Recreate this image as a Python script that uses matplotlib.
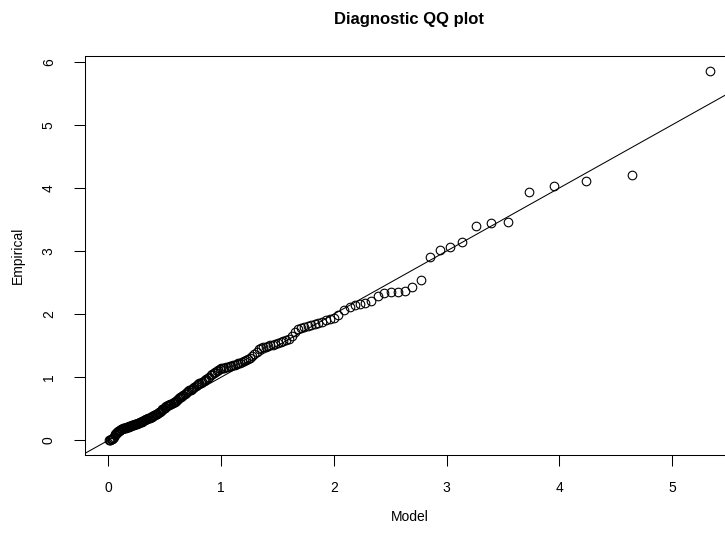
import numpy as np
import matplotlib
matplotlib.use("Agg")
import matplotlib.pyplot as plt

plt.rcParams['font.family'] = ['Liberation Sans', 'DejaVu Sans']

# model (theoretical) quantiles
model = [0.005, 0.011, 0.016, 0.022, 0.027, 0.032, 0.038, 0.043, 0.049, 0.055,
         0.060, 0.066, 0.072, 0.077, 0.083, 0.089, 0.095, 0.100, 0.106, 0.112,
         0.118, 0.124, 0.130, 0.136, 0.142, 0.148, 0.155, 0.161, 0.167, 0.173,
         0.180, 0.186, 0.192, 0.199, 0.205, 0.212, 0.218, 0.225, 0.232, 0.238,
         0.245, 0.252, 0.259, 0.266, 0.272, 0.279, 0.286, 0.293, 0.301, 0.308,
         0.315, 0.322, 0.329, 0.337, 0.344, 0.352, 0.359, 0.367, 0.375, 0.382,
         0.390, 0.398, 0.406, 0.414, 0.422, 0.430, 0.438, 0.446, 0.454, 0.463,
         0.471, 0.479, 0.488, 0.497, 0.505, 0.514, 0.523, 0.532, 0.541, 0.550,
         0.559, 0.568, 0.578, 0.587, 0.596, 0.606, 0.616, 0.625, 0.635, 0.645,
         0.655, 0.665, 0.676, 0.686, 0.696, 0.707, 0.718, 0.728, 0.739, 0.750,
         0.762, 0.773, 0.784, 0.796, 0.807, 0.819, 0.831, 0.843, 0.855, 0.868,
         0.880, 0.893, 0.906, 0.919, 0.932, 0.945, 0.959, 0.972, 0.986, 1.000,
         1.015, 1.029, 1.044, 1.059, 1.074, 1.089, 1.105, 1.121, 1.137, 1.153,
         1.170, 1.186, 1.204, 1.221, 1.239, 1.257, 1.275, 1.294, 1.313, 1.332,
         1.352, 1.372, 1.393, 1.414, 1.436, 1.457, 1.480, 1.503, 1.526, 1.550,
         1.575, 1.600, 1.626, 1.652, 1.680, 1.707, 1.736, 1.766, 1.796, 1.828,
         1.860, 1.893, 1.928, 1.964, 2.001, 2.039,
         2.085, 2.138, 2.183, 2.227, 2.272, 2.331, 2.390, 2.443, 2.502, 2.564,
         2.626, 2.695, 2.771, 2.851, 2.937, 3.032, 3.138, 3.257, 3.390, 3.543,
         3.727, 3.949, 4.239, 4.643, 5.335]

# empirical quantiles
empirical = [0.00, 0.005, 0.01, 0.015, 0.02, 0.025, 0.03, 0.04, 0.05, 0.08,
             0.10, 0.11, 0.12, 0.13, 0.14, 0.145, 0.15, 0.155, 0.16, 0.17,
             0.18, 0.185, 0.19, 0.193, 0.195, 0.198, 0.20, 0.205, 0.21, 0.212,
             0.215, 0.22, 0.225, 0.23, 0.235, 0.238, 0.24, 0.245, 0.25, 0.255,
             0.26, 0.265, 0.27, 0.272, 0.275, 0.283, 0.29, 0.295, 0.30, 0.308,
             0.315, 0.322, 0.33, 0.335, 0.34, 0.345, 0.35, 0.358, 0.365, 0.372,
             0.38, 0.388, 0.395, 0.402, 0.41, 0.422, 0.435, 0.445, 0.455, 0.468,
             0.48, 0.49, 0.50, 0.512, 0.525, 0.535, 0.545, 0.555, 0.565, 0.572,
             0.58, 0.59, 0.60, 0.612, 0.625, 0.638, 0.65, 0.665, 0.68, 0.692,
             0.705, 0.718, 0.73, 0.745, 0.76, 0.775, 0.79, 0.802, 0.815, 0.828,
             0.84, 0.855, 0.87, 0.885, 0.90, 0.915, 0.93, 0.945, 0.96, 0.975,
             0.99, 1.01, 1.03, 1.05, 1.065, 1.08, 1.10, 1.115, 1.13, 1.14,
             1.145, 1.15, 1.16, 1.165, 1.175, 1.18, 1.19, 1.20, 1.21, 1.22,
             1.23, 1.24, 1.255, 1.27, 1.285, 1.30, 1.33, 1.36, 1.40, 1.44,
             1.46, 1.47, 1.48, 1.495, 1.505, 1.515, 1.53, 1.545, 1.56, 1.57,
             1.585, 1.61, 1.66, 1.72, 1.76, 1.775, 1.79, 1.81, 1.83, 1.85,
             1.865, 1.88, 1.90, 1.92, 1.945, 1.99,
             2.06, 2.11, 2.137, 2.164, 2.174, 2.20, 2.28, 2.335, 2.35, 2.354,
             2.36, 2.427, 2.533, 2.902, 3.008, 3.060, 3.139, 3.392, 3.451, 3.456,
             3.937, 4.026, 4.116, 4.211, 5.857]

xticks = [0, 1, 2, 3, 4, 5]
yticks = [0, 1, 2, 3, 4, 5, 6]

W, H = 725, 534
fig = plt.figure(figsize=(W / 100, H / 100), dpi=100)
# plot region in pixels (right edge runs past the image)
left, right, top, bottom = 85, 734, 56, 455
ax = fig.add_axes([left / W, 1 - bottom / H, (right - left) / W, (bottom - top) / H])

ax.plot(model, empirical, linestyle='none', marker='o', markersize=6.2,
        markerfacecolor='none', markeredgecolor='black', markeredgewidth=0.8)
ax.axline((0, 0), slope=1, color='black', linewidth=0.75)

# R style 4% padding
xr = max(model) - min(model)
yr = max(empirical) - min(empirical)
ax.set_xlim(min(model) - 0.04 * xr, max(model) + 0.04 * xr)
ax.set_ylim(min(empirical) - 0.04 * yr, max(empirical) + 0.04 * yr)

ax.set_xticks(xticks)
ax.set_yticks(yticks)
ax.tick_params(axis='both', direction='out', length=8, width=0.75,
               color='black', labelsize=10)
ax.tick_params(axis='x', pad=10.5)
ax.tick_params(axis='y', pad=13, labelrotation=90)
for lab in ax.get_yticklabels():
    lab.set_verticalalignment('center')

for sp in ax.spines.values():
    sp.set_linewidth(0.75)
    sp.set_color('black')

fig.text(409.5 / W, 1 - 24 / H, 'Diagnostic QQ plot', ha='center',
         va='baseline', fontsize=12, fontweight='bold')
fig.text(409.5 / W, 1 - 521 / H, 'Model', ha='center', va='baseline', fontsize=10)
fig.text(18 / W, 1 - 255.5 / H, 'Empirical', ha='center', va='center',
         rotation=90, fontsize=10)

fig.savefig('out.png', dpi=100)
